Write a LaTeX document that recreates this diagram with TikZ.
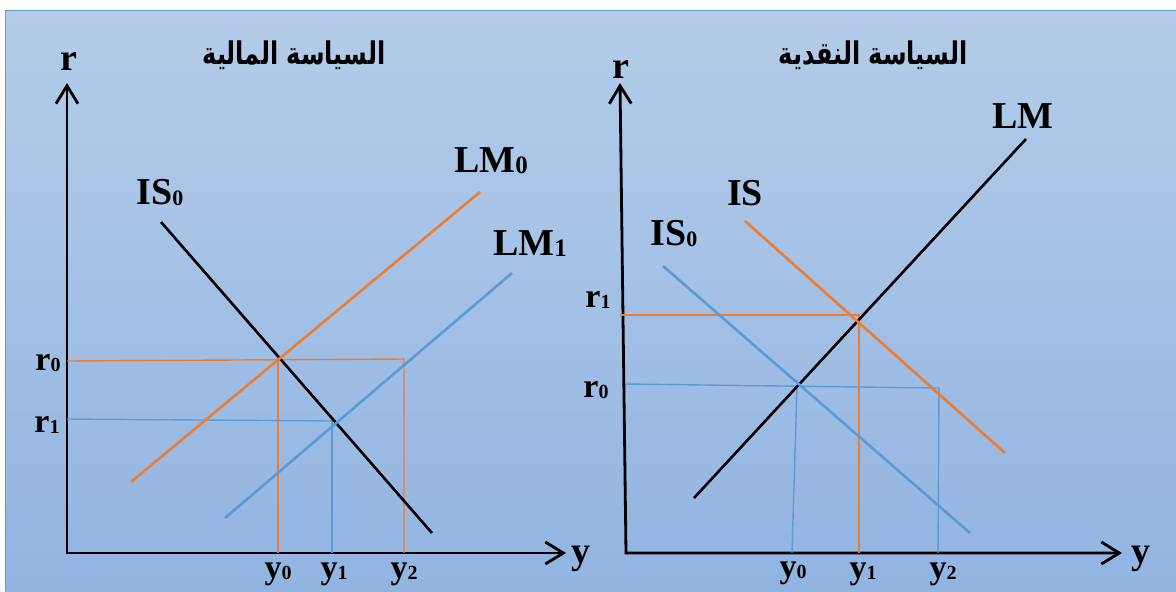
\documentclass[tikz,border=0pt]{standalone}
\usepackage{fontspec}
\setmainfont{Liberation Serif}
\newfontfamily\arabicfont[Script=Arabic]{DejaVu Sans}
\TeXXeTstate=1
\usetikzlibrary{arrows.meta}
\definecolor{bgtop}{HTML}{B4CCE9}
\definecolor{bgbot}{HTML}{92B4E1}
\definecolor{framec}{HTML}{5B9BD5}
\definecolor{ora}{HTML}{ED7D31}
\definecolor{blu}{HTML}{5B9BD5}
\newcommand\sbs[2]{\raisebox{-0.5pt}{\fontsize{#1}{#1}\selectfont #2}}
\begin{document}
\begin{tikzpicture}[x=0.5pt,y=-0.5pt,
  axes/.style={line width=1.4pt, line join=miter, arrows={Straight Barb[length=9pt,width=11pt]-Straight Barb[length=9pt,width=11pt]}},
  curve/.style={line width=1.3pt},
  guide/.style={line width=0.7pt},
  lbl/.style={font=\bfseries\fontsize{19}{19}\selectfont, inner sep=0pt, anchor=base},
  tick/.style={font=\bfseries\fontsize{17}{17}\selectfont, inner sep=0pt, anchor=base},
  ttl/.style={font=\arabicfont\bfseries\fontsize{12}{12}\selectfont, inner sep=0pt}]
\useasboundingbox (0,0) rectangle (1176,591);
\fill[white] (0,0) rectangle (1176,591);
\shade[top color=bgtop, bottom color=bgbot] (5,10) rectangle (1176,591);
\draw[framec, line width=0.8pt] (5.5,591) -- (5.5,10.5) -- (1176,10.5);

% ---------- left panel ----------
\coordinate (LT) at (67,83);
\coordinate (LO) at (67,553);
\coordinate (LX) at (566,553);
\draw[axes] (LT) -- (LO) -- (LX);
\node[lbl] (lr) at (69,70) {r};
\node[lbl] (ly) at (581,563) {y};
\node[ttl] (ltitle) at (294,55) {\scalebox{1}[1.3]{\beginR السياسة المالية\endR}};

\draw[ora, guide] (67,361) -- (404,359) -- (404,553);
\draw[ora, guide] (278,360) -- (278,553);
\draw[blu, guide] (67,419) -- (334,421);
\draw[blu, guide] (332,421) -- (332,553);

\draw[curve, black] (161,222) -- (432,533);
\draw[curve, ora] (131,482) -- (480,192);
\draw[curve, blu] (225,518) -- (512,273);

\node[lbl] (lis0) at (160,204) {IS\sbs{11}{0}};
\node[lbl] (llm0) at (491,172) {LM\sbs{12.5}{0}};
\node[lbl] (llm1) at (530,255) {LM\sbs{12.5}{1}};
\node[tick] (lr0) at (48,370) {r\sbs{10}{0}};
\node[tick] (lr1) at (47,432) {r\sbs{10}{1}};
\node[tick] (ly0) at (278,578) {y\sbs{10}{0}};
\node[tick] (ly1) at (334,578) {y\sbs{10}{1}};
\node[tick] (ly2) at (404,578) {y\sbs{10}{2}};

% ---------- right panel ----------
\coordinate (RT) at (620,83);
\coordinate (RO) at (626,553);
\coordinate (RX) at (1122,553);
\draw[axes] (RT) -- (RO) -- (RX);
\node[lbl] (rr) at (621,78) {r};
\node[lbl] (ry) at (1141,563) {y};
\node[ttl] (rtitle) at (873,55) {\scalebox{1}[1.3]{\beginR السياسة النقدية\endR}};

\draw[ora, guide] (620,315) -- (859,315) -- (859,553);
\draw[blu, guide] (626,384) -- (939,388) -- (938,553);
\draw[blu, guide] (797,386) -- (792,553);

\draw[curve, black] (694,498) -- (1026,139);
\draw[curve, ora] (745,221) -- (1005,453);
\draw[curve, blu] (663,266) -- (970,533);

\node[lbl] (rlm) at (1023,128) {LM};
\node[lbl] (ris) at (745,205) {IS};
\node[lbl] (ris0) at (674,245) {IS\sbs{11}{0}};
\node[tick] (rr1) at (598,307) {r\sbs{10}{1}};
\node[tick] (rr0) at (596,397) {r\sbs{10}{0}};
\node[tick] (ry0) at (793,577) {y\sbs{10}{0}};
\node[tick] (ry1) at (863,578) {y\sbs{10}{1}};
\node[tick] (ry2) at (943,578) {y\sbs{10}{2}};
\end{tikzpicture}
\end{document}
